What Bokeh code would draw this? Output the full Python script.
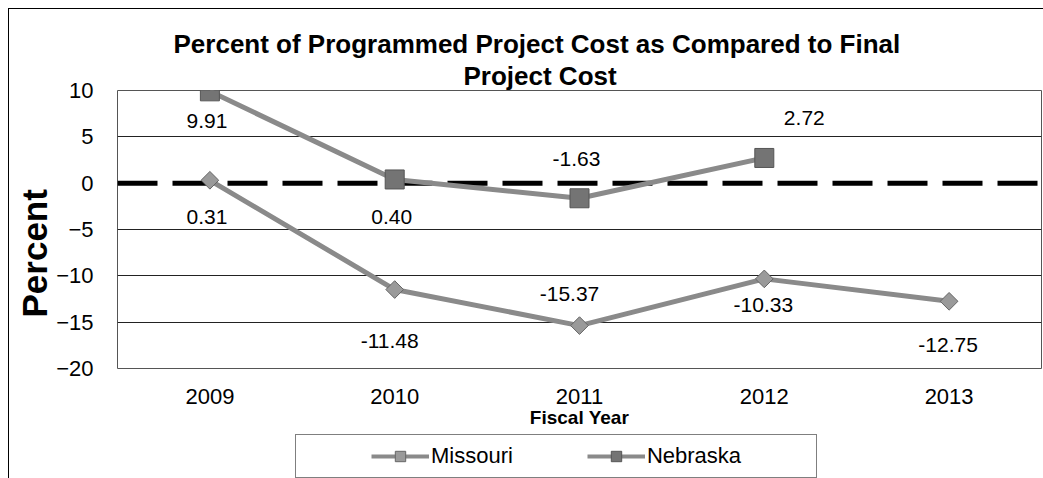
from bokeh.plotting import figure
from bokeh.layouts import column
from bokeh.models import (FactorRange, Range1d, FixedTicker, Span, Legend,
                          LegendItem, Title, ColumnDataSource)
from bokeh.core.properties import value
from bokeh.embed import file_html
from bokeh.resources import INLINE

# ---- data ----
years = ["2009", "2010", "2011", "2012", "2013"]
missouri = [0.31, -11.48, -15.37, -10.33, -12.75]
nebraska_years = ["2009", "2010", "2011", "2012"]
nebraska = [9.91, 0.40, -1.63, 2.72]
y_ticks = [-20, -15, -10, -5, 0, 5, 10]
grid_ticks = [-15, -10, -5, 5]
series_names = ["Missouri", "Nebraska"]

title_line1 = "Percent of Programmed Project Cost as Compared to Final"
title_line2 = "Project Cost"

# label placement (pixels, style only)
mo_dx = [-3, -5, -10, -1, -1]
mo_dy = [37, 51, -32, 26, 44]
ne_dx = [-3, -3, -3, 40]
ne_dy = [30, 38, -39, -40]

FONT = "Liberation Sans"
LINE = "#8a8a8a"
MO_STYLE = dict(marker="square", angle=0.785398, size=12.5,
                fill_color="#9a9a9a", line_color="#666666", line_width=1)
NE_STYLE = dict(marker="square", size=19, fill_color="#747474",
                line_color="#555555", line_width=1)

p = figure(x_range=FactorRange(factors=years), y_range=Range1d(-20, 10),
           width=1034, height=421, output_backend="svg", toolbar_location=None,
           min_border_left=108, min_border_right=2, min_border_top=81,
           min_border_bottom=62)
p.background_fill_color = "white"
p.border_fill_color = "white"
p.outline_line_color = "#555555"
p.outline_line_width = 1

# titles
p.add_layout(Title(text=title_line2, align="left", offset=346, standoff=0,
                   text_font=FONT, text_font_size="26px",
                   text_font_style="bold", text_color="black"), "above")
p.add_layout(Title(text=title_line1, align="left", offset=56, standoff=0,
                   text_font=FONT, text_font_size="26px",
                   text_font_style="bold", text_color="black"), "above")

# axes
p.yaxis.ticker = FixedTicker(ticks=y_ticks)
p.ygrid.ticker = FixedTicker(ticks=grid_ticks)
p.ygrid.grid_line_color = "#222222"
p.ygrid.grid_line_width = 1
p.xgrid.grid_line_color = None
for ax in (p.xaxis, p.yaxis):
    ax.axis_line_color = None
    ax.major_tick_line_color = None
    ax.minor_tick_line_color = None
    ax.major_tick_out = 0
    ax.major_tick_in = 0
    ax.major_label_text_font = FONT
    ax.major_label_text_font_size = "22px"
    ax.major_label_text_color = "black"
p.yaxis.major_label_standoff = 24
p.xaxis.major_label_standoff = 20
p.xaxis.axis_label = "Fiscal Year"
p.xaxis.axis_label_standoff = 0
p.xaxis.axis_label_text_font = FONT
p.xaxis.axis_label_text_font_size = "19px"
p.xaxis.axis_label_text_font_style = "bold"
p.xaxis.axis_label_text_color = "black"

p.add_layout(Title(text="Percent", align="left", offset=51, standoff=0,
                   text_font=FONT, text_font_size="35px",
                   text_font_style="bold", text_color="black"), "left")

# zero line
p.add_layout(Span(location=0, dimension="width", line_color="black",
                  line_width=5, line_dash="40 15", level="underlay"))

mo_src = ColumnDataSource(dict(x=years, y=missouri,
                               lbl=[f"{v:.2f}" for v in missouri],
                               dx=mo_dx, dy=mo_dy))
ne_src = ColumnDataSource(dict(x=nebraska_years, y=nebraska,
                               lbl=[f"{v:.2f}" for v in nebraska],
                               dx=ne_dx, dy=ne_dy))

p.line("x", "y", source=mo_src, line_color=LINE, line_width=5)
p.line("x", "y", source=ne_src, line_color=LINE, line_width=5)
p.scatter("x", "y", source=mo_src, **MO_STYLE)
p.scatter("x", "y", source=ne_src, **NE_STYLE)

for src in (mo_src, ne_src):
    p.text("x", "y", text="lbl", source=src, x_offset="dx", y_offset="dy",
           text_font=value(FONT), text_font_size="21px", text_color="black",
           text_align="center", text_baseline="middle")

# ---- legend strip (own small figure, so the box is not clipped) ----
lf = figure(width=1034, height=48, output_backend="svg", toolbar_location=None,
            x_axis_location=None, y_axis_location=None, min_border=0,
            x_range=FactorRange(factors=years), y_range=Range1d(-20, 10))
lf.outline_line_color = None
lf.xgrid.visible = False
lf.ygrid.visible = False
lf.background_fill_color = "white"
lf.border_fill_color = "white"

# hidden copies of the series: only their legend swatches are shown
mo_l = lf.line("x", "y", source=mo_src, line_color=LINE, line_width=4,
               visible=False)
mo_m = lf.scatter("x", "y", source=mo_src, visible=False, **MO_STYLE)
ne_l = lf.line("x", "y", source=ne_src, line_color=LINE, line_width=4,
               visible=False)
ne_m = lf.scatter("x", "y", source=ne_src, visible=False, **NE_STYLE)
spacer = lf.scatter("x", "y", source=mo_src, alpha=0, visible=False)

legend = Legend(items=[LegendItem(label=" ", renderers=[spacer]),
                       LegendItem(label=series_names[0], renderers=[mo_l, mo_m]),
                       LegendItem(label=" ", renderers=[spacer]),
                       LegendItem(label=series_names[1], renderers=[ne_l, ne_m]),
                       LegendItem(label=" ", renderers=[spacer])],
                location=(178, 0), orientation="horizontal", padding=8,
                margin=0, spacing=7, glyph_width=58, glyph_height=26,
                label_standoff=2, label_width=0, label_height=26,
                border_line_color="black", border_line_width=1,
                background_fill_color="white", inactive_fill_alpha=0,
                click_policy="none",
                label_text_font=FONT, label_text_font_size="22px",
                label_text_color="black")
lf.add_layout(legend)

layout = column(p, lf, spacing=0)
layout.styles = {"margin-left": "8px", "margin-top": "8px",
                 "border-left": "1px solid #000", "border-top": "1px solid #000"}

open("out.html", "w").write(file_html(layout, INLINE))
